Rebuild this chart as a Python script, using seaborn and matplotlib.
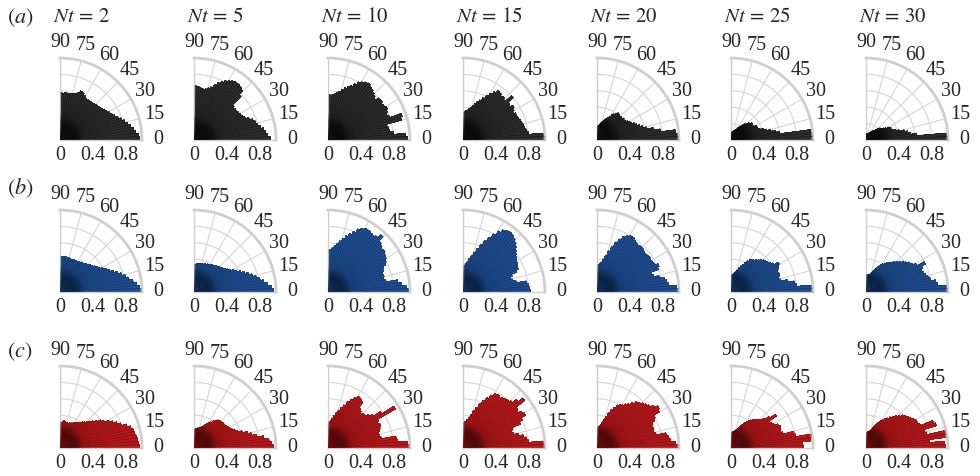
import numpy as np
import matplotlib
matplotlib.use("Agg")
import matplotlib.pyplot as plt
import seaborn as sns
from matplotlib.transforms import ScaledTranslation

sns.set_style("white")
plt.rcParams['font.family'] = ['Liberation Serif', 'DejaVu Serif']
plt.rcParams['mathtext.fontset'] = 'stix'

# ---------------- data ----------------
nt_values = [2, 5, 10, 15, 20, 25, 30]
row_labels = ['a', 'b', 'c']
theta_ticks = [0, 15, 30, 45, 60, 75, 90]
r_grid = [0.2, 0.4, 0.6, 0.8]
r_tick_labels = ['0', '0.4', '0.8']
r_tick_pos = [0.0, 0.4, 0.8]
bin_width_deg = 2.5
bin_edges_deg = np.arange(0, 90, bin_width_deg)   # 36 angular bins, 0..90 deg
row_colors = ['#2e2e2e', '#1f4d8f', '#b5191b']
row_edges = ['#101010', '#10305e', '#6e0c0d']

# row (a)
a_nt2 = [0.97,0.96,0.93,0.91,0.88,0.85,0.82,0.79,0.76,0.73,0.71,0.69,0.67,0.66,0.64,0.63,0.62,0.62,
         0.61,0.60,0.60,0.60,0.59,0.60,0.62,0.64,0.65,0.62,0.60,0.59,0.58,0.58,0.58,0.58,0.57,0.58]
a_nt5 = [0.93,0.90,0.88,0.86,0.83,0.80,0.78,0.76,0.72,0.68,0.66,0.65,0.64,0.63,0.63,0.62,0.64,0.78,
         0.84,0.86,0.87,0.87,0.86,0.84,0.82,0.79,0.76,0.72,0.68,0.66,0.64,0.63,0.64,0.65,0.65,0.66]
a_nt10 = [0.97,0.95,0.80,0.76,0.75,0.74,0.93,0.95,0.80,0.78,0.80,0.82,0.80,0.79,0.81,0.80,0.76,0.78,
          0.80,0.82,0.83,0.85,0.84,0.82,0.80,0.76,0.72,0.70,0.67,0.64,0.61,0.59,0.57,0.56,0.55,0.55]
a_nt15 = [1.00,0.98,0.80,0.78,0.77,0.76,0.75,0.74,0.73,0.72,0.72,0.70,0.72,0.74,0.70,0.72,0.80,0.70,
          0.72,0.71,0.73,0.74,0.70,0.66,0.62,0.57,0.53,0.50,0.47,0.44,0.41,0.39,0.37,0.36,0.35,0.34]
a_nt20 = [1.00,0.98,0.96,0.78,0.70,0.62,0.58,0.55,0.52,0.50,0.47,0.46,0.44,0.42,0.41,0.42,0.40,0.41,
          0.40,0.41,0.42,0.40,0.38,0.36,0.33,0.31,0.29,0.27,0.25,0.23,0.22,0.20,0.19,0.18,0.18,0.17]
a_nt25 = [1.00,0.99,0.98,0.60,0.55,0.50,0.45,0.42,0.38,0.36,0.35,0.36,0.33,0.30,0.32,0.33,0.31,0.30,
          0.28,0.26,0.24,0.22,0.20,0.18,0.17,0.15,0.14,0.13,0.12,0.12,0.11,0.11,0.10,0.10,0.10,0.10]
a_nt30 = [1.00,0.98,0.62,0.55,0.52,0.48,0.42,0.38,0.35,0.33,0.34,0.32,0.28,0.26,0.24,0.23,0.22,0.20,
          0.18,0.16,0.15,0.14,0.13,0.12,0.11,0.10,0.10,0.09,0.09,0.08,0.08,0.08,0.08,0.08,0.08,0.08]
# row (b)
b_nt2 = [1.00,0.97,0.94,0.90,0.85,0.82,0.78,0.74,0.70,0.66,0.63,0.60,0.57,0.55,0.53,0.51,0.50,0.48,
         0.47,0.46,0.45,0.45,0.44,0.43,0.43,0.43,0.43,0.42,0.42,0.43,0.43,0.43,0.44,0.44,0.43,0.43]
b_nt5 = [0.97,0.95,0.90,0.86,0.82,0.78,0.74,0.70,0.66,0.62,0.58,0.55,0.52,0.50,0.48,0.46,0.45,0.44,
         0.43,0.42,0.41,0.40,0.40,0.39,0.38,0.38,0.37,0.37,0.36,0.36,0.36,0.35,0.35,0.35,0.34,0.34]
b_nt10 = [0.98,0.96,0.90,0.86,0.72,0.70,0.71,0.70,0.72,0.74,0.78,0.80,0.82,0.83,0.85,0.84,0.86,0.88,
          0.95,0.90,0.88,0.89,0.90,0.90,0.88,0.85,0.80,0.76,0.72,0.68,0.64,0.60,0.57,0.54,0.52,0.51]
b_nt15 = [0.82,0.81,0.80,0.78,0.66,0.62,0.60,0.63,0.70,0.73,0.74,0.75,0.76,0.78,0.80,0.82,0.85,0.88,
          0.90,0.92,0.93,0.92,0.90,0.86,0.80,0.74,0.68,0.62,0.56,0.50,0.46,0.42,0.38,0.35,0.33,0.32]
b_nt20 = [1.00,0.97,0.88,0.86,0.84,0.78,0.72,0.70,0.80,0.82,0.78,0.77,0.76,0.77,0.76,0.75,0.76,0.77,
          0.77,0.76,0.77,0.78,0.80,0.80,0.78,0.75,0.70,0.65,0.58,0.52,0.46,0.41,0.37,0.35,0.34,0.33]
b_nt25 = [1.00,0.98,0.80,0.78,0.70,0.62,0.60,0.62,0.63,0.62,0.64,0.66,0.68,0.62,0.60,0.58,0.57,0.56,
          0.54,0.52,0.50,0.48,0.47,0.46,0.43,0.40,0.37,0.34,0.31,0.28,0.26,0.24,0.23,0.22,0.21,0.21]
b_nt30 = [1.00,0.98,0.88,0.86,0.80,0.78,0.76,0.74,0.73,0.75,0.80,0.70,0.66,0.64,0.61,0.59,0.56,0.53,
          0.51,0.48,0.46,0.44,0.42,0.40,0.38,0.35,0.32,0.29,0.27,0.25,0.23,0.22,0.22,0.21,0.21,0.21]
# row (c)
c_nt2 = [0.97,0.96,0.95,0.94,0.93,0.92,0.90,0.86,0.80,0.76,0.72,0.68,0.63,0.60,0.56,0.52,0.49,0.46,
         0.44,0.42,0.40,0.38,0.37,0.36,0.35,0.34,0.33,0.33,0.32,0.32,0.32,0.33,0.34,0.32,0.31,0.31]
c_nt5 = [0.97,0.95,0.92,0.86,0.78,0.72,0.68,0.62,0.57,0.54,0.52,0.50,0.49,0.48,0.47,0.47,0.47,0.46,
         0.46,0.45,0.43,0.41,0.38,0.36,0.34,0.32,0.30,0.28,0.27,0.26,0.25,0.25,0.24,0.24,0.23,0.23]
c_nt10 = [1.00,0.97,0.85,0.84,0.66,0.65,0.64,0.66,0.68,0.70,0.68,0.70,0.95,0.78,0.68,0.64,0.60,0.60,
          0.58,0.60,0.62,0.70,0.72,0.73,0.70,0.66,0.62,0.56,0.52,0.48,0.44,0.40,0.37,0.34,0.32,0.31]
c_nt15 = [1.00,0.98,0.80,0.78,0.75,0.70,0.64,0.62,0.65,0.76,0.80,0.86,0.84,0.80,0.82,0.95,0.88,0.82,
          0.80,0.79,0.78,0.76,0.78,0.77,0.73,0.68,0.63,0.58,0.52,0.47,0.42,0.38,0.35,0.33,0.32,0.31]
c_nt20 = [0.99,0.96,0.90,0.88,0.86,0.74,0.72,0.73,0.72,0.74,0.78,0.80,0.88,0.90,0.86,0.82,0.80,0.78,
          0.76,0.74,0.70,0.66,0.64,0.61,0.60,0.58,0.54,0.50,0.45,0.40,0.36,0.32,0.29,0.27,0.26,0.25]
c_nt25 = [0.88,0.87,0.98,0.99,0.80,0.79,0.66,0.64,0.65,0.66,0.64,0.60,0.58,0.56,0.68,0.60,0.54,0.50,
          0.48,0.46,0.44,0.42,0.40,0.37,0.35,0.32,0.30,0.27,0.25,0.23,0.22,0.21,0.20,0.20,0.19,0.19]
c_nt30 = [0.97,0.96,0.78,1.00,0.99,0.76,0.74,0.90,0.88,0.72,0.70,0.70,0.68,0.66,0.64,0.62,0.60,0.57,
          0.54,0.51,0.48,0.45,0.43,0.40,0.38,0.35,0.32,0.29,0.26,0.24,0.22,0.21,0.20,0.20,0.19,0.19]

rows = [
    [a_nt2, a_nt5, a_nt10, a_nt15, a_nt20, a_nt25, a_nt30],
    [b_nt2, b_nt5, b_nt10, b_nt15, b_nt20, b_nt25, b_nt30],
    [c_nt2, c_nt5, c_nt10, c_nt15, c_nt20, c_nt25, c_nt30],
]

# ---------------- layout ----------------
W, H = 980, 476
fig = plt.figure(figsize=(W / 100, H / 100), dpi=100)
panel_px = 82
col_left_px = [60, 194, 328, 463, 597, 731, 866]
row_base_px = [140, 292, 448]
row_label_y_px = [18, 188, 352]

theta = np.deg2rad(bin_edges_deg + bin_width_deg / 2)
width = np.deg2rad(bin_width_deg) * 0.98
levels = np.linspace(0, 1, 41)[:-1]

for ri, row in enumerate(rows):
    c = row_colors[ri]
    cmap_cols = sns.blend_palette(['#000000', '#000000', c, c, c, c, c, c], n_colors=len(levels))
    for ci, vals in enumerate(row):
        vals = np.asarray(vals, dtype=float)
        left = col_left_px[ci] / W
        bottom = (H - row_base_px[ri]) / H
        ax = fig.add_axes([left, bottom, panel_px / W, panel_px / H], projection='polar')
        ax.set_thetamin(0)
        ax.set_thetamax(90)
        ax.set_rlim(0, 1)
        ax.set_axisbelow(True)
        # gradient bars: overlapping layers from the centre outward
        for k, r0 in enumerate(levels):
            m = vals > r0
            if not m.any():
                continue
            ax.bar(theta[m], vals[m] - r0, width=width, bottom=r0, color=cmap_cols[k],
                   edgecolor='none', linewidth=0, align='center', zorder=2)
        ax.bar(theta, vals, width=width, bottom=0, fill=False, edgecolor=row_edges[ri],
               linewidth=0.35, alpha=0.6, align='center', zorder=3)
        ax.set_thetagrids(theta_ticks, [str(t) for t in theta_ticks])
        ax.set_rgrids(r_grid, labels=['' for _ in r_grid])
        ax.grid(True, color='#d6d6d6', linewidth=0.8)
        ax.tick_params(axis='x', labelsize=14.5, pad=1)
        for s in ax.spines.values():
            s.set_color('#cfcfcf')
        ax.spines['polar'].set_linewidth(2.0)
        ax.spines['start'].set_linewidth(1.0)
        ax.spines['end'].set_linewidth(1.0)
        off = ScaledTranslation(0, -4 / 72, fig.dpi_scale_trans)
        for rp, rl in zip(r_tick_pos, r_tick_labels):
            ax.text(0, rp, rl, transform=ax.transData + off, ha='center', va='top', fontsize=14.5)
        if ri == 0:
            fig.text((col_left_px[ci] - 7) / W, 1 - row_label_y_px[0] / H, r'$Nt\,=\,%d$' % nt_values[ci],
                     ha='left', va='center', fontsize=15)
    fig.text(7 / W, 1 - row_label_y_px[ri] / H, r'$(%s)$' % row_labels[ri], ha='left', va='center', fontsize=16)

fig.savefig('out.png', dpi=100)
